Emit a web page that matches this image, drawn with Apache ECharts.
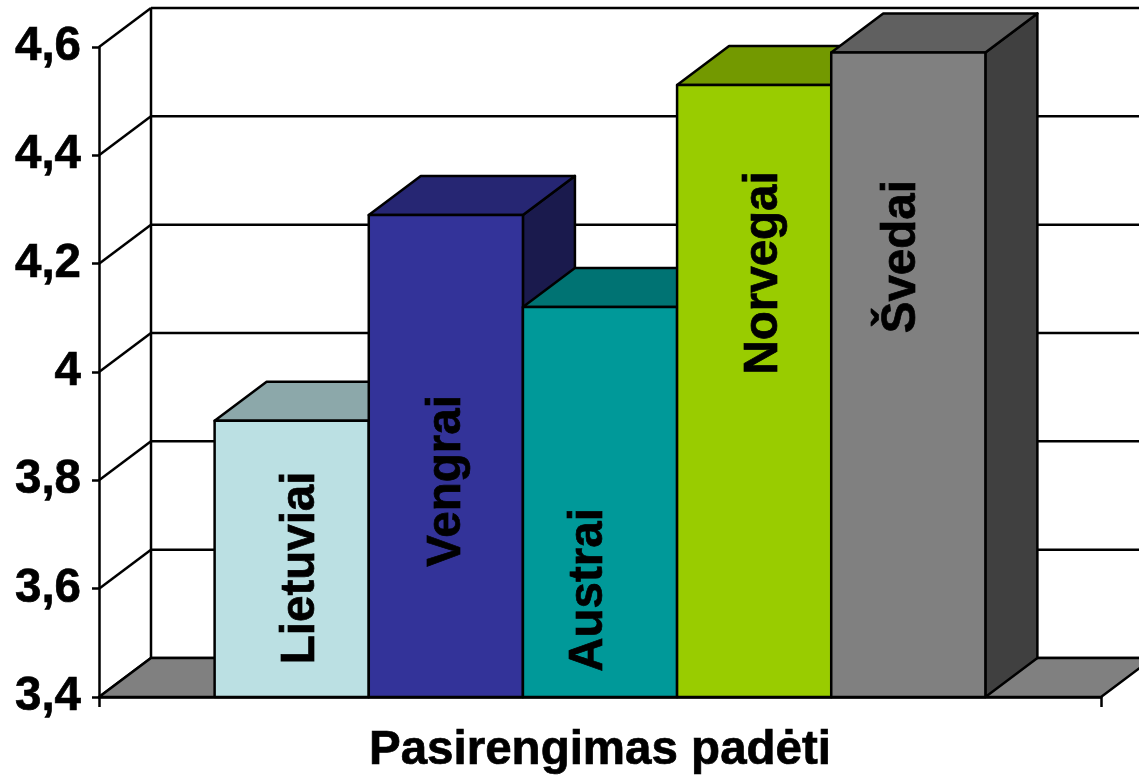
<!DOCTYPE html>
<html>
<head>
<meta charset="utf-8">
<title>Pasirengimas padėti</title>
<script src="https://cdn.jsdelivr.net/npm/echarts@6/dist/echarts.min.js"></script>
<style>
  html, body { margin: 0; padding: 0; background: #fff; }
  #chart { width: 1139px; height: 778px; }
</style>
</head>
<body>
<div id="chart"></div>
<script>
  // data
  const categories = ['Pasirengimas padėti'];
  const seriesNames = ['Lietuviai', 'Vengrai', 'Austrai', 'Norvegai', 'Švedai'];
  const seriesValues = [3.91, 4.29, 4.12, 4.53, 4.59];
  const yTicks = [3.4, 3.6, 3.8, 4, 4.2, 4.4, 4.6];

  // look
  const FONT = '"Liberation Sans", Arial, sans-serif';
  const FONT_SIZE = 47.5;
  const TEXT_WEIGHT = 0.7;
  const LINE_W = 2.5;
  const frontColors = ['#BBE0E3', '#333399', '#009999', '#99CC00', '#808080'];
  const topColors = ['#8CA8AA', '#262673', '#007373', '#739900', '#606060'];
  const sideColors = ['#5E7072', '#1A1A4D', '#004D4D', '#4D6600', '#404040'];
  const labelShift = [[9, 9], [1, 25], [-11, 88], [10, -118], [-6, -118]];
  const DEPTH_X = 52;
  const DEPTH_Y = -39;
  const BAR_RATIO = 2 / 13;
  const GAP_RATIO = 1.5 / 13;

  function poly(points, fill) {
    return {
      type: 'polygon',
      shape: { points: points },
      style: { fill: fill, stroke: '#000', lineWidth: LINE_W, lineJoin: 'round' }
    };
  }

  function line(x1, y1, x2, y2) {
    return {
      type: 'line',
      shape: { x1: x1, y1: y1, x2: x2, y2: y2 },
      style: { stroke: '#000', lineWidth: LINE_W }
    };
  }

  // back wall, side wall lines and the floor
  function renderWall(params, api) {
    const tick = api.value(1);
    const p = api.coord([api.value(0), tick]);
    const band = api.size([1, 0])[0];
    const left = p[0] - band / 2;
    const right = p[0] + band / 2;
    const y = p[1];
    const children = [
      line(left + DEPTH_X, y + DEPTH_Y, right + DEPTH_X, y + DEPTH_Y),
      line(left, y, left + DEPTH_X, y + DEPTH_Y)
    ];
    if (params.dataIndex === 0) {
      const topY = api.coord([api.value(0), yTicks[yTicks.length - 1]])[1];
      children.push(line(left + DEPTH_X, topY + DEPTH_Y, left + DEPTH_X, y + DEPTH_Y));
      children.push(poly([
        [left, y], [left + DEPTH_X, y + DEPTH_Y],
        [right + DEPTH_X, y + DEPTH_Y], [right, y]
      ], '#808080'));
    }
    return { type: 'group', children: children };
  }

  function renderBar(index) {
    return function (params, api) {
      const top = api.coord([api.value(0), api.value(1)]);
      const base = api.coord([api.value(0), yTicks[0]]);
      const band = api.size([1, 0])[0];
      const w = band * BAR_RATIO;
      const x0 = top[0] - band / 2 + band * GAP_RATIO + w * index;
      const x1 = x0 + w;
      const yt = top[1];
      const yb = base[1];
      return {
        type: 'group',
        children: [
          poly([[x1, yt], [x1 + DEPTH_X, yt + DEPTH_Y], [x1 + DEPTH_X, yb + DEPTH_Y], [x1, yb]], sideColors[index]),
          poly([[x0, yt], [x0 + DEPTH_X, yt + DEPTH_Y], [x1 + DEPTH_X, yt + DEPTH_Y], [x1, yt]], topColors[index]),
          poly([[x0, yt], [x1, yt], [x1, yb], [x0, yb]], frontColors[index]),
          {
            type: 'text',
            x: (x0 + x1) / 2 + labelShift[index][0],
            y: (yt + yb) / 2 + labelShift[index][1],
            rotation: Math.PI / 2,
            style: {
              text: seriesNames[index],
              align: 'center',
              verticalAlign: 'middle',
              fill: '#000',
              stroke: '#000',
              lineWidth: TEXT_WEIGHT,
              font: 'bold ' + FONT_SIZE + 'px ' + FONT
            }
          }
        ]
      };
    };
  }

  const wallSeries = {
    type: 'custom',
    z: 1,
    silent: true,
    renderItem: renderWall,
    encode: { x: 0, y: 1 },
    data: yTicks.map(t => [0, t])
  };

  const barSeries = seriesNames.map((name, i) => ({
    name: name,
    type: 'custom',
    z: 3 + i,
    silent: true,
    renderItem: renderBar(i),
    encode: { x: 0, y: 1 },
    data: [[0, seriesValues[i]]]
  }));

  const myChart = echarts.init(document.getElementById('chart'), null, { renderer: 'canvas' });
  myChart.setOption({
    animation: false,
    grid: { left: 99, right: 38, top: 47, bottom: 81 },
    xAxis: {
      type: 'category',
      data: categories,
      axisLine: { show: true, lineStyle: { color: '#000', width: LINE_W } },
      axisTick: { show: true, length: 10, lineStyle: { color: '#000', width: LINE_W } },
      axisLabel: {
        color: '#000',
        fontFamily: FONT,
        fontWeight: 'bold',
        fontSize: FONT_SIZE,
        textBorderColor: '#000',
        textBorderWidth: TEXT_WEIGHT,
        margin: 30
      }
    },
    yAxis: {
      type: 'value',
      min: 3.4,
      max: 4.6,
      interval: 0.2,
      splitLine: { show: false },
      axisLine: { show: true, lineStyle: { color: '#000', width: LINE_W } },
      axisTick: { show: true, length: 7, lineStyle: { color: '#000', width: LINE_W } },
      axisLabel: {
        color: '#000',
        fontFamily: FONT,
        fontWeight: 'bold',
        fontSize: FONT_SIZE,
        textBorderColor: '#000',
        textBorderWidth: TEXT_WEIGHT,
        margin: 18,
        padding: [8, 0, 0, 0],
        formatter: v => String(v).replace('.', ',')
      }
    },
    series: [wallSeries].concat(barSeries)
  });
</script>
</body>
</html>
